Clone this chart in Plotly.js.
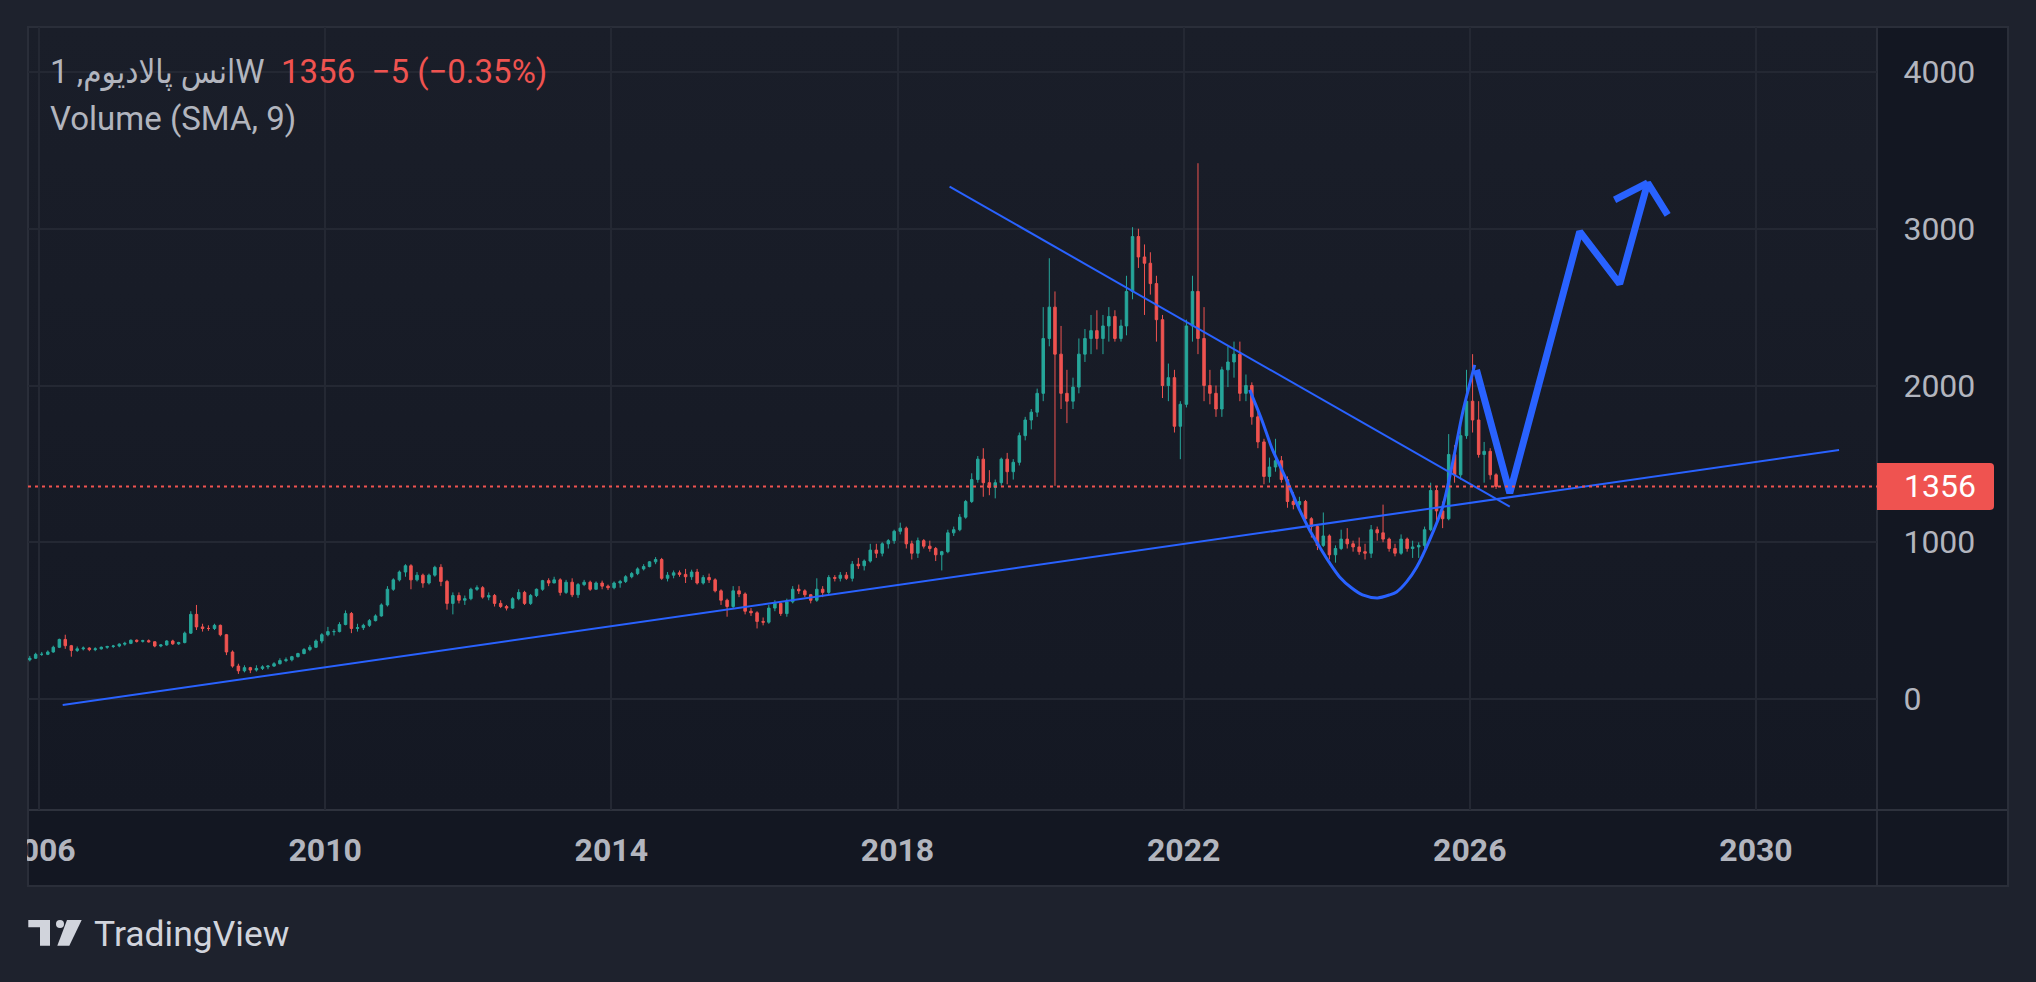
<!DOCTYPE html>
<html><head><meta charset="utf-8">
<script src="https://cdn.plot.ly/plotly-3.0.1.min.js"></script>
<style>
html,body{margin:0;padding:0;background:#1e222d;overflow:hidden;}
#wrap{position:relative;width:2036px;height:982px;}
.pn{position:absolute;box-sizing:border-box;}
#chart{position:absolute;left:0;top:0;width:2036px;height:982px;}
</style></head><body>
<div id="wrap">
<div class="pn" style="left:27px;top:26px;width:1982px;height:861px;border:2px solid #2a2e39;background:#131722;"></div>
<div class="pn" style="left:29px;top:28px;width:1847px;height:781px;background:linear-gradient(#1a1e29,#141823);"></div>
<div class="pn" style="left:1876px;top:28px;width:2px;height:857px;background:#2a2e39;"></div>
<div class="pn" style="left:29px;top:809px;width:1978px;height:2px;background:#2e323d;"></div>
<div id="chart"></div>
</div>
<script>
// ---------- data (weekly chart, summarised per month) ----------
const symbolName = 'انس پالادیوم';
const intervalLabel = '1W';
const indicatorLabel = 'Volume (SMA, 9)';
const firstBarYear = 2005, firstBarMonth = 11;

const open = [
 250,260,
 285,285,300,330,380,340,310,320,325,315,320,330,
 335,338,350,355,375,368,372,365,338,345,370,352,
 360,420,540,460,450,450,470,410,300,210,180,200,
 185,195,205,210,225,245,250,270,290,315,330,370,
 410,430,430,475,545,450,455,470,500,530,600,700,
 760,810,850,760,790,740,790,840,750,610,660,630,
 640,700,710,650,660,610,590,580,640,680,610,660,
 700,755,740,760,680,745,665,730,745,700,740,720,
 710,740,750,780,800,830,845,875,890,770,790,805,
 795,780,810,740,775,760,690,630,590,690,670,560,
 550,495,490,580,610,545,620,700,690,665,630,700,
 680,775,770,790,770,860,850,880,950,930,990,1010,
 1070,1090,990,930,1010,975,960,920,940,1060,1080,1160,
 1260,1400,1530,1380,1350,1380,1530,1450,1510,1680,1780,1830,
 1950,2300,2500,2200,1950,1900,1990,2200,2300,2350,2300,2380,
 2440,2300,2380,2600,2950,2820,2780,2650,2420,2000,2050,1740,
 1880,2380,2600,2300,2000,1950,1850,2100,2150,2200,1950,2000,
 1800,1640,1420,1480,1520,1400,1260,1240,1260,1150,1100,980,
 1040,920,960,1020,990,970,940,930,1080,1060,1020,960,
 930,1020,960,970,980,1080,1330,1200,1150,1560,1430,1680,
 1900,1780,1560,1580,1430];
const high = [
 275,295,
 300,310,340,385,410,345,335,335,330,330,335,340,
 345,355,365,380,380,378,380,368,350,375,378,365,
 430,560,600,480,470,480,475,415,310,225,215,205,
 215,215,215,235,260,265,275,295,325,345,380,420,
 460,445,490,565,555,480,480,510,540,610,720,770,
 820,860,860,810,800,800,850,860,760,680,680,660,
 710,725,720,680,670,630,600,650,700,690,670,705,
 760,770,780,770,760,770,740,760,755,750,755,730,
 750,760,790,810,840,860,880,905,900,810,820,820,
 830,825,830,790,800,770,700,640,720,720,680,580,
 560,520,600,630,620,640,720,730,700,670,770,720,
 790,790,810,810,880,900,890,990,990,1000,1020,1080,
 1125,1100,1010,1030,1020,1010,970,945,1080,1100,1180,1270,
 1440,1550,1600,1460,1400,1540,1570,1530,1700,1800,1850,1980,
 2500,2812,2600,2380,2100,2050,2300,2360,2450,2480,2450,2500,
 2480,2420,2700,3010,3000,2900,2850,2700,2450,2140,2100,1900,
 2420,2700,3418,2500,2100,2000,2120,2250,2280,2280,2070,2020,
 1850,1660,1540,1660,1550,1420,1320,1290,1270,1160,1110,1190,
 1050,980,1080,1090,1010,1030,990,1110,1100,1240,1030,990,
 1050,1030,1010,1000,1100,1380,1360,1260,1690,1620,1780,2100,
 2200,1900,1640,1600,1440];
const low = [
 240,255,
 275,280,295,325,320,270,300,310,305,305,315,320,
 325,330,340,350,360,360,360,330,330,340,345,345,
 355,415,440,430,435,440,400,280,200,160,170,165,
 175,185,190,205,220,235,240,265,285,305,325,355,
 400,405,425,470,420,430,440,460,495,525,590,690,
 750,780,700,750,710,730,780,720,570,540,610,600,
 630,690,640,630,590,580,565,575,630,600,600,650,
 690,720,740,660,670,650,645,720,690,700,700,695,
 700,710,740,770,790,820,840,860,760,750,770,780,
 740,760,730,730,740,680,600,525,580,650,540,530,
 450,470,480,560,530,525,610,670,650,610,620,650,
 670,750,750,760,750,830,820,870,900,910,960,990,
 1050,960,890,900,960,940,880,820,930,1040,1070,1150,
 1250,1380,1290,1300,1280,1360,1370,1400,1490,1650,1720,1800,
 1900,2250,1360,1850,1760,1850,1950,2150,2200,2230,2200,2280,
 2280,2280,2320,2550,2750,2450,2580,2280,1920,1900,1700,1530,
 1860,2280,2200,1900,1880,1800,1800,1990,2050,1900,1900,1750,
 1600,1370,1380,1450,1380,1220,1210,1200,1120,1030,950,970,
 890,870,950,960,940,920,890,900,1010,1000,940,910,
 920,940,900,900,960,1070,1120,1090,1140,1380,1400,1660,
 1700,1540,1380,1400,1340];
const close = [
 260,285,
 285,300,330,380,340,310,320,325,315,320,330,335,
 338,350,355,375,368,372,365,338,345,370,352,360,
 420,540,460,450,450,470,410,300,210,180,200,185,
 195,205,210,225,245,250,270,290,315,330,370,410,
 430,430,475,545,450,455,470,500,530,600,700,760,
 810,850,760,790,740,790,840,750,610,660,630,640,
 700,710,650,660,610,590,580,640,680,610,660,700,
 755,740,760,680,745,665,730,745,700,740,720,710,
 740,750,780,800,830,845,875,890,770,790,805,795,
 780,810,740,775,760,690,630,590,690,670,560,550,
 495,490,580,610,545,620,700,690,665,630,700,680,
 775,770,790,770,860,850,880,950,930,990,1010,1070,
 1090,990,930,1010,975,960,920,940,1060,1080,1160,1260,
 1400,1530,1380,1350,1380,1530,1450,1510,1680,1780,1830,1950,
 2300,2500,2200,1950,1900,1990,2200,2300,2350,2300,2380,2440,
 2300,2380,2600,2950,2820,2780,2650,2420,2000,2050,1740,1880,
 2380,2600,2300,2000,1950,1850,2100,2150,2200,1950,2000,1800,
 1640,1420,1480,1520,1400,1260,1240,1260,1150,1100,980,1040,
 920,960,1020,990,970,940,930,1080,1060,1020,960,930,
 1020,960,970,980,1080,1330,1200,1150,1560,1430,1680,1900,
 1780,1560,1580,1430,1356];
const lastChange = -5, lastChangePct = -0.35;

const yearTicks = ['2006','2010','2014','2018','2022','2026','2030'];
const priceTicks = [0,1000,2000,3000,4000];

// drawings on the chart
const supportDates = ['2006-05-02','2031-03-01'], supportPrices = [-38,1589];
const trendDates = ['2018-09-24','2026-07-24'], trendPrices = [3269,1227];
const cupDates = ['2022-12-04','2023-02-04','2023-03-31','2023-06-10','2023-08-16','2023-10-06','2023-11-26','2024-01-16','2024-03-07','2024-05-08','2024-07-02','2024-09-17','2024-11-17','2024-12-23','2025-02-12','2025-04-05','2025-06-10','2025-08-15','2025-10-05','2025-11-25','2026-01-26'];
const cupPrices = [1972,1780,1589,1398,1206,1078,970,868,779,708,664,645,664,683,747,842,1015,1225,1506,1825,2131];
const pathDates = ['2026-02-04','2026-07-24','2027-07-16','2028-02-05','2028-06-27','2028-10-07'];
const pathPrices = [2100,1313,2982,2648,3293,3089];
const wingDates = ['2028-01-10','2028-06-27'], wingPrices = [3184,3293];

// ---------- build ----------
const barDates = open.map((_, i) => {
  const m = firstBarMonth - 1 + i;
  const y = firstBarYear + Math.floor(m / 12);
  return y + '-' + String(m % 12 + 1).padStart(2, '0') + '-15';
});

const W = 2036, H = 982, PL = 28, PR = 1877, PT = 27, PB = 810;
const px2x = px => (px - PL) / (PR - PL);
const px2y = py => (PB - py) / (PB - PT);

const t0 = Date.UTC(2006,0,1), t1 = Date.UTC(2030,0,1);
const kx = (1756 - 39) / (t1 - t0);
const fmt = ms => new Date(ms).toISOString().replace('T',' ').replace('Z','');
const xRange = [fmt(t0 - (39 - PL) / kx), fmt(t0 + (PR - 39) / kx)];
const y0px = 699, pxPer = 0.15675;
const yRange = [(y0px - PB) / pxPer, (y0px - PT) / pxPer];

const BLUE = '#2962ff', RED = '#ef5350', GREEN = '#26a69a', TXT = '#b2b5be';
const last = close[close.length - 1];
const minus = '\u2212';
const chgText = last + '\u00a0\u00a0' + (lastChange < 0 ? minus : '+') + Math.abs(lastChange) +
  ' (' + (lastChangePct < 0 ? minus : '+') + Math.abs(lastChangePct).toFixed(2) + '%)';

const traces = [
  {type:'candlestick', x:barDates, open:open, high:high, low:low, close:close,
   increasing:{line:{color:GREEN,width:1}, fillcolor:GREEN},
   decreasing:{line:{color:RED,width:1}, fillcolor:RED},
   whiskerwidth:0, hoverinfo:'skip', showlegend:false},
  {type:'scatter', mode:'lines', x:supportDates, y:supportPrices, line:{color:BLUE,width:2}, hoverinfo:'skip', showlegend:false},
  {type:'scatter', mode:'lines', x:trendDates, y:trendPrices, line:{color:BLUE,width:2}, hoverinfo:'skip', showlegend:false},
  {type:'scatter', mode:'lines', x:cupDates, y:cupPrices, line:{color:BLUE,width:3,shape:'spline',smoothing:0.8}, hoverinfo:'skip', showlegend:false},
  {type:'scatter', mode:'lines', x:pathDates, y:pathPrices, line:{color:BLUE,width:7}, hoverinfo:'skip', showlegend:false},
  {type:'scatter', mode:'lines', x:wingDates, y:wingPrices, line:{color:BLUE,width:7}, hoverinfo:'skip', showlegend:false}
];

const P = (pts) => 'M' + pts.map(p => px2x(p[0]).toFixed(5) + ',' + px2y(p[1]).toFixed(5)).join('L') + 'Z';
const boxH = 23.5 / pxPer, rx = 4 / (PR - PL), ry = 4 / pxPer;
const bx1 = px2x(1994);
const labelPath = 'M1,' + (last - boxH) + 'L' + (bx1 - rx) + ',' + (last - boxH) +
  'Q' + bx1 + ',' + (last - boxH) + ' ' + bx1 + ',' + (last - boxH + ry) +
  'L' + bx1 + ',' + (last + boxH - ry) + 'Q' + bx1 + ',' + (last + boxH) + ' ' + (bx1 - rx) + ',' + (last + boxH) +
  'L1,' + (last + boxH) + 'Z';

const shapes = [
  {type:'line', xref:'paper', yref:'y', x0:0, x1:1, y0:last, y1:last, line:{color:RED,width:2,dash:'3px,4px'}, layer:'above'},
  {type:'path', xref:'paper', yref:'y', path:labelPath, fillcolor:RED, line:{width:0}, layer:'above'},
  {type:'rect', xref:'paper', yref:'paper', x0:px2x(-5), x1:px2x(27), y0:px2y(880), y1:px2y(812), fillcolor:'#1e222d', line:{width:0}, layer:'above'},
  {type:'path', xref:'paper', yref:'paper', path:P([[28.3,920],[50,920],[50,945.7],[40,945.7],[40,927.3],[28.3,927.3]]), fillcolor:'#d1d4dc', line:{width:0}, layer:'above'},
  {type:'circle', xref:'paper', yref:'paper', x0:px2x(56), x1:px2x(64), y0:px2y(928), y1:px2y(920), fillcolor:'#d1d4dc', line:{width:0}, layer:'above'},
  {type:'path', xref:'paper', yref:'paper', path:P([[67,920],[81.7,920],[69.3,945.7],[57.3,945.7]]), fillcolor:'#d1d4dc', line:{width:0}, layer:'above'}
];

const F = 'Roboto, "DejaVu Sans", sans-serif';
const FA = 'Roboto, "DejaVu Sans Condensed", "DejaVu Sans", sans-serif';
const ann = (text, px, py, size, color, fam) => ({
  text:text, xref:'paper', yref:'paper', x:px2x(px), y:px2y(py), xanchor:'left', yanchor:'middle',
  showarrow:false, font:{family:fam || F, size:size, color:color}, borderpad:0});

const annotations = [
  ann(symbolName + ', ' + intervalLabel, 49, 71, 33, TXT, FA),
  ann(chgText, 280, 71, 33, RED),
  ann(indicatorLabel, 49, 118, 33, TXT),
  Object.assign(ann(String(last), 1903, 0, 32, '#ffffff'), {yref:'y', y:last}),
  ann('TradingView', 93, 934, 35.5, '#d1d4dc')
];

const layout = {
  width:W, height:H,
  margin:{l:PL, r:W-PR, t:PT, b:H-PB, pad:0},
  paper_bgcolor:'rgba(0,0,0,0)', plot_bgcolor:'rgba(0,0,0,0)',
  showlegend:false, hovermode:false, dragmode:false,
  boxgap:0.35,
  xaxis:{type:'date', range:xRange, autorange:false, rangeslider:{visible:false},
    tickmode:'array', tickvals:yearTicks.map(y => y + '-01-01'), ticktext:yearTicks,
    showgrid:true, gridcolor:'#242833', gridwidth:2, zeroline:false, showline:false,
    ticks:'outside', ticklen:12, tickcolor:'rgba(0,0,0,0)',
    tickfont:{family:F, size:32, color:TXT, weight:'bold'}, automargin:false, fixedrange:true},
  yaxis:{side:'right', range:yRange, autorange:false,
    tickmode:'array', tickvals:priceTicks, ticktext:priceTicks.map(String),
    showgrid:true, gridcolor:'#242833', gridwidth:2, zeroline:false, showline:false,
    ticks:'outside', ticklen:19, tickcolor:'rgba(0,0,0,0)',
    tickfont:{family:F, size:32, color:TXT}, automargin:false, fixedrange:true},
  shapes:shapes, annotations:annotations
};

Plotly.newPlot('chart', traces, layout, {displayModeBar:false, staticPlot:true});
</script>
</body></html>
